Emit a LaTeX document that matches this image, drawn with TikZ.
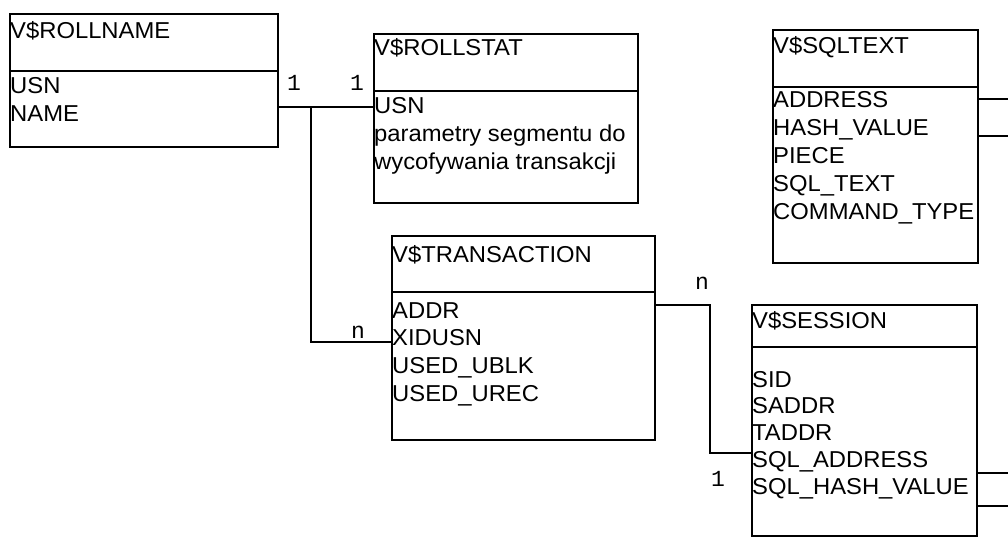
\documentclass[tikz,border=0pt]{standalone}
\usepackage{fontspec}
\setmainfont[FakeStretch=1.035]{Liberation Sans}
\newfontfamily\labfont{Liberation Mono}
\begin{document}
\begin{tikzpicture}[x=1pt,y=-1pt,
  box/.style={draw,line width=1.6pt,rectangle,anchor=north west,inner sep=0pt},
  conn/.style={line width=1.6pt},
  txt/.style={anchor=base west,inner sep=0pt,font=\fontsize{23}{28}\selectfont},
  card/.style={anchor=center,inner sep=0pt,font=\labfont\fontsize{23}{24}\selectfont}]
\useasboundingbox (0,0) rectangle (1008,536);
% boxes
\node[box,minimum width=268pt,minimum height=133pt] (rollname) at (9,13) {};
\node[box,minimum width=264pt,minimum height=169pt] (rollstat) at (373,33) {};
\node[box,minimum width=205pt,minimum height=233pt] (sqltext) at (772,29) {};
\node[box,minimum width=263pt,minimum height=204pt] (transaction) at (391,235) {};
\node[box,minimum width=225pt,minimum height=231pt] (session) at (751,304) {};
% dividers
\draw[conn] (rollname.west |- 0,71) -- (rollname.east |- 0,71);
\draw[conn] (rollstat.west |- 0,91) -- (rollstat.east |- 0,91);
\draw[conn] (sqltext.west |- 0,87) -- (sqltext.east |- 0,87);
\draw[conn] (transaction.west |- 0,292) -- (transaction.east |- 0,292);
\draw[conn] (session.west |- 0,347) -- (session.east |- 0,347);
% texts
\node[txt] (rnT) at (10,38) {V\$ROLLNAME};
\node[txt] (rn1) at (10,93) {USN};
\node[txt] (rn2) at (10,121) {NAME};
\node[txt] (rsT) at (374,55) {V\$ROLLSTAT};
\node[txt] (rs1) at (374,113) {USN};
\node[txt] (rs2) at (374,141) {parametry segmentu do};
\node[txt] (rs3) at (374,169) {wycofywania transakcji};
\node[txt] (sqT) at (773,53) {V\$SQLTEXT};
\node[txt] (sq1) at (773,107) {ADDRESS};
\node[txt] (sq2) at (773,135) {HASH\_VALUE};
\node[txt] (sq3) at (773,163) {PIECE};
\node[txt] (sq4) at (773,191) {SQL\_TEXT};
\node[txt] (sq5) at (773,219) {COMMAND\_TYPE};
\node[txt] (trT) at (392,262) {V\$TRANSACTION};
\node[txt] (tr1) at (392,318) {ADDR};
\node[txt] (tr2) at (392,345) {XIDUSN};
\node[txt] (tr3) at (392,373) {USED\_UBLK};
\node[txt] (tr4) at (392,401) {USED\_UREC};
\node[txt] (seT) at (752,328) {V\$SESSION};
\node[txt] (se1) at (752,387) {SID};
\node[txt] (se2) at (752,413) {SADDR};
\node[txt] (se3) at (752,440) {TADDR};
\node[txt] (se4) at (752,467) {SQL\_ADDRESS};
\node[txt] (se5) at (752,494) {SQL\_HASH\_VALUE};
% connectors
\coordinate (j1) at (311,107);
\coordinate (j2) at (710,305);
\coordinate (e1) at (1008,99);
\coordinate (e2) at (1008,136);
\coordinate (e3) at (1008,473);
\coordinate (e4) at (1008,506);
\draw[conn] (rollname.east |- j1) -- (rollstat.west |- j1);
\draw[conn] (j1) |- (transaction.west |- 0,342);
\draw[conn] (transaction.east |- j2) -- (j2) |- (session.west |- 0,453);
\draw[conn] (sqltext.east |- e1) -- (e1);
\draw[conn] (sqltext.east |- e2) -- (e2);
\draw[conn] (session.east |- e3) -- (e3);
\draw[conn] (session.east |- e4) -- (e4);
% cardinalities
\node[card] (c1) at (294,83) {1};
\node[card] (c2) at (357,83) {1};
\node[card] (c3) at (358,332) {n};
\node[card] (c4) at (702,283) {n};
\node[card] (c5) at (718,479) {1};
\end{tikzpicture}
\end{document}
